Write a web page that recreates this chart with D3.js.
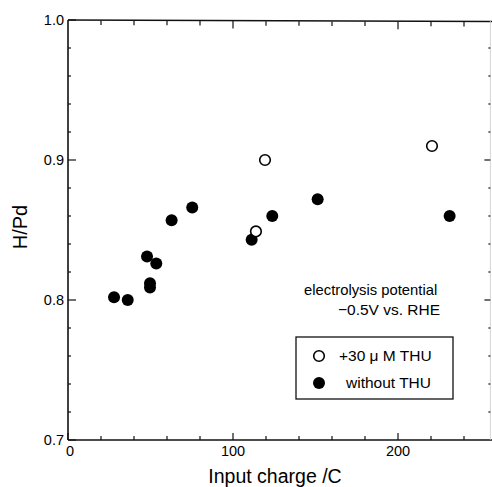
<!DOCTYPE html>
<html>
<head>
<meta charset="utf-8">
<script src="https://cdn.jsdelivr.net/npm/d3@7"></script>
<style>
    body { margin: 0; background: #fff; }
    text { font-family: "Liberation Sans", Arial, sans-serif; fill: #000; }
</style>
</head>
<body>
<div id="chart"></div>
<script>
(function()
{
    "use strict";

    // data
    var withoutThuCharge = [27.9, 36.2, 47.9, 53.5, 49.7, 49.7, 62.8, 75.3, 111.3, 123.8, 151.3, 231.3];
    var withoutThuHPd    = [0.802, 0.800, 0.831, 0.826, 0.812, 0.809, 0.857, 0.866, 0.843, 0.860, 0.872, 0.860];
    var withThuCharge    = [113.9, 119.4, 220.6];
    var withThuHPd       = [0.849, 0.900, 0.910];

    var xMajorTicks = [0, 100, 200];
    var yMajorTicks = [0.7, 0.8, 0.9, 1.0];
    var legendLabels = ["+30 \u03bc M THU", "without THU"];

    var width = 492, height = 487;

    // #########################################################################
    var svg = d3.select("#chart")
                .append("svg")
                .attr("width", width)
                .attr("height", height);

    var xScale = d3.scaleLinear()
                   .domain([0, 256])
                   .range([68, 490.4]);

    var yScale = d3.scaleLinear()
                   .domain([0.7, 1.0])
                   .range([440, 20]);
    // #########################################################################

    var x0 = xScale.range()[0], x1 = xScale.range()[1];
    var y0 = yScale.range()[0], y1 = yScale.range()[1];

    // frame
    svg.append("line").attr("x1", x0).attr("x2", x0).attr("y1", y1).attr("y2", y0)
       .attr("stroke", "#111").attr("stroke-width", 1.6);
    svg.append("line").attr("x1", x0).attr("x2", x1 + 2).attr("y1", y0).attr("y2", y0)
       .attr("stroke", "#111").attr("stroke-width", 1.6);
    svg.append("line").attr("x1", x0).attr("x2", x1 + 2).attr("y1", y1).attr("y2", y1 + 1.5)
       .attr("stroke", "#111").attr("stroke-width", 1.6);
    svg.append("line").attr("x1", x1).attr("x2", x1).attr("y1", y1).attr("y2", y0)
       .attr("stroke", "#ccc").attr("stroke-width", 0.8);

    // #########################################################################
    // ticks (inward), minor + major
    var xTicks = d3.range(0, 257, 20).concat(xMajorTicks.filter((d) => d % 20 !== 0));
    var yTicks = d3.range(0, 16).map((i) => 0.7 + i * 0.02);
    var isMajorY = (d) => Math.abs(Math.round(d * 10) - d * 10) < 1e-6;

    svg.append("g").selectAll("line")
       .data(xTicks)
       .enter().append("line")
       .attr("x1", (d) => xScale(d)).attr("x2", (d) => xScale(d))
       .attr("y1", y0).attr("y2", (d) => y0 - (d % 100 === 0 ? 7 : 4))
       .attr("stroke", "#111").attr("stroke-width", 1.2);

    svg.append("g").selectAll("line")
       .data(xTicks.filter((d) => d > 0))
       .enter().append("line")
       .attr("x1", (d) => xScale(d)).attr("x2", (d) => xScale(d))
       .attr("y1", (d) => y1 + 0.5 + d / 256 * 1.5)
       .attr("y2", (d) => y1 + d / 256 * 1.5 + (d % 100 === 0 ? 8 : 5))
       .attr("stroke", "#111").attr("stroke-width", 1.2);

    svg.append("g").selectAll("line")
       .data(yTicks)
       .enter().append("line")
       .attr("x1", x0).attr("x2", (d) => x0 + (isMajorY(d) ? 8 : 3))
       .attr("y1", (d) => yScale(d)).attr("y2", (d) => yScale(d))
       .attr("stroke", "#111").attr("stroke-width", 1.2);

    svg.append("g").selectAll("line")
       .data(yTicks.filter((d) => d > 0.71 && d < 0.99))
       .enter().append("line")
       .attr("x1", x1).attr("x2", (d) => x1 - (isMajorY(d) ? 6 : 2))
       .attr("y1", (d) => yScale(d)).attr("y2", (d) => yScale(d))
       .attr("stroke", "#111").attr("stroke-width", 1.2);
    // #########################################################################

    // tick labels
    svg.append("g").selectAll("text")
       .data(xMajorTicks)
       .enter().append("text")
       .attr("x", (d) => xScale(d) + (d === 0 ? 2 : 0))
       .attr("y", y0 + 16)
       .attr("text-anchor", "middle")
       .attr("font-size", 14.5)
       .text((d) => d);

    svg.append("g").selectAll("text")
       .data(yMajorTicks)
       .enter().append("text")
       .attr("x", x0 - 4)
       .attr("y", (d) => yScale(d) + 5)
       .attr("text-anchor", "end")
       .attr("font-size", 14.5)
       .text((d) => d.toFixed(1));

    // axis titles
    svg.append("text")
       .attr("x", 275).attr("y", 483)
       .attr("text-anchor", "middle")
       .attr("font-size", 19.5)
       .text("Input charge /C");

    svg.append("text")
       .attr("transform", "translate(27,227) rotate(-90)")
       .attr("text-anchor", "middle")
       .attr("font-size", 20)
       .text("H/Pd");

    // #########################################################################
    // points
    svg.append("g").selectAll("circle")
       .data(withoutThuCharge.map((c, i) => [c, withoutThuHPd[i]]))
       .enter().append("circle")
       .attr("cx", (d) => xScale(d[0]))
       .attr("cy", (d) => yScale(d[1]))
       .attr("r", 6)
       .attr("fill", "#000");

    svg.append("g").selectAll("circle")
       .data(withThuCharge.map((c, i) => [c, withThuHPd[i]]))
       .enter().append("circle")
       .attr("cx", (d) => xScale(d[0]))
       .attr("cy", (d) => yScale(d[1]))
       .attr("r", 5.3)
       .attr("fill", "#fff")
       .attr("stroke", "#000")
       .attr("stroke-width", 1.6);
    // #########################################################################

    // annotation
    svg.append("text")
       .attr("x", 304).attr("y", 295)
       .attr("font-size", 14.8)
       .text("electrolysis potential");
    svg.append("text")
       .attr("x", 338).attr("y", 315)
       .attr("font-size", 15.5)
       .text("\u22120.5V vs. RHE");

    // legend
    var legend = svg.append("g");
    legend.append("rect")
          .attr("x", 296).attr("y", 337)
          .attr("width", 157).attr("height", 62)
          .attr("fill", "#fff")
          .attr("stroke", "#111")
          .attr("stroke-width", 1.3);

    legend.append("circle")
          .attr("cx", 319).attr("cy", 356).attr("r", 5.3)
          .attr("fill", "#fff").attr("stroke", "#000").attr("stroke-width", 1.6);
    legend.append("circle")
          .attr("cx", 319).attr("cy", 383).attr("r", 6)
          .attr("fill", "#000");

    legend.append("text")
          .attr("x", 339).attr("y", 361)
          .attr("font-size", 15.5)
          .text(legendLabels[0]);
    legend.append("text")
          .attr("x", 346).attr("y", 388)
          .attr("font-size", 15.5)
          .text(legendLabels[1]);
}
)();
</script>
</body>
</html>
